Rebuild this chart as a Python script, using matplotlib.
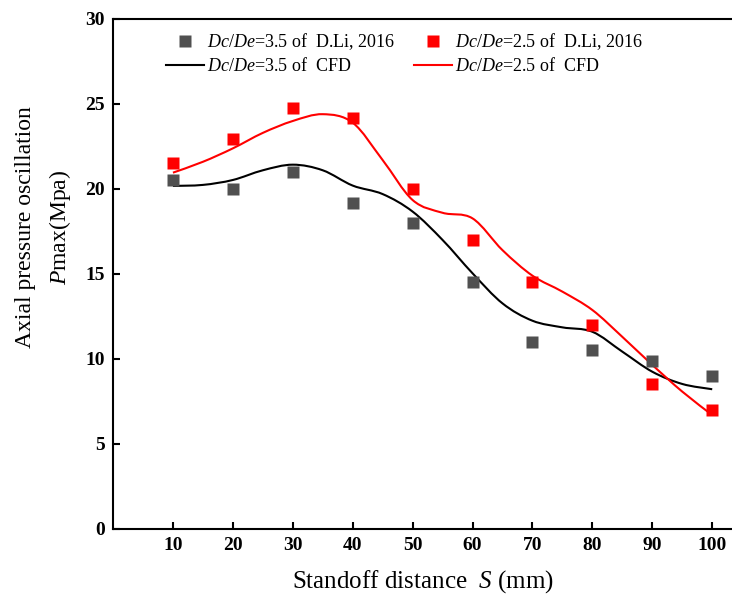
import matplotlib
matplotlib.use('Agg')
import matplotlib.pyplot as plt
from matplotlib.path import Path
from matplotlib.patches import PathPatch
from matplotlib.lines import Line2D
import numpy as np

plt.rcParams['font.family'] = 'Liberation Serif'
plt.rcParams['mathtext.fontset'] = 'custom'
plt.rcParams['mathtext.rm'] = 'Liberation Serif'
plt.rcParams['mathtext.it'] = 'Liberation Serif:italic'

# Experimental points (D.Li, 2016)
standoff = [10, 20, 30, 40, 50, 60, 70, 80, 90, 100]
exp_35 = [20.5, 20.0, 21.0, 19.2, 18.0, 14.5, 11.0, 10.5, 9.9, 9.0]
exp_25 = [21.5, 22.95, 24.75, 24.15, 20.0, 17.0, 14.5, 12.0, 8.5, 7.0]

# CFD results
cfd_s = [10, 15, 20, 25, 30, 35, 40, 45, 50, 55, 60, 65, 70, 75, 80, 85, 90, 95, 100]
cfd_35 = [20.18, 20.24, 20.53, 21.1, 21.43, 21.1, 20.2, 19.7, 18.67, 17.0, 15.04,
          13.27, 12.25, 11.86, 11.6, 10.43, 9.25, 8.53, 8.22]
cfd_25 = [20.96, 21.6, 22.39, 23.3, 24.0, 24.4, 23.9, 21.7, 19.35, 18.6, 18.27,
          16.4, 14.9, 13.96, 12.88, 11.3, 9.65, 8.08, 6.7]

GREY = '#505050'
RED = '#ff0000'


def smooth_path(xs, ys):
    """Catmull-Rom curve through the points, as cubic Bezier segments."""
    pts = np.column_stack([xs, ys]).astype(float)
    padded = np.vstack([pts[0], pts, pts[-1]])
    verts = [pts[0]]
    codes = [Path.MOVETO]
    for i in range(1, len(padded) - 2):
        p0, p1, p2, p3 = padded[i - 1], padded[i], padded[i + 1], padded[i + 2]
        verts += [p1 + (p2 - p0) / 6, p2 - (p3 - p1) / 6, p2]
        codes += [Path.CURVE4] * 3
    return Path(verts, codes)


fig = plt.figure(figsize=(7.32, 5.99), dpi=100)
ax = fig.add_axes([0.1544, 0.1169, 0.8456, 0.8514])

ax.add_patch(PathPatch(smooth_path(cfd_s, cfd_35), fill=False, edgecolor='black', lw=1.5))
ax.add_patch(PathPatch(smooth_path(cfd_s, cfd_25), fill=False, edgecolor=RED, lw=1.5))
ax.plot(standoff, exp_35, 's', color=GREY, ms=9, mec='none')
ax.plot(standoff, exp_25, 's', color=RED, ms=9, mec='none')

ax.set_xlim(0, 103.3)
ax.set_ylim(0, 30)
ax.set_xticks(standoff)
ax.set_yticks([0, 5, 10, 15, 20, 25, 30])
ax.tick_params(direction='in', length=5, width=1.5, labelsize=14)
ax.tick_params(axis='x', pad=6)
ax.tick_params(axis='y', pad=6)
for lab in ax.get_xticklabels() + ax.get_yticklabels():
    lab.set_fontweight('bold')
for side in ['left', 'bottom', 'top']:
    ax.spines[side].set_linewidth(1.5)
ax.spines['right'].set_visible(False)

ax.set_xlabel(r'Standoff distance  $\it{S}$ (mm)', fontsize=18, labelpad=10)
fig.text(0.035, 0.62, 'Axial pressure oscillation', rotation=90,
         fontsize=17, ha='center', va='center')
fig.text(0.082, 0.62, r'$\it{P}$max(Mpa)', rotation=90,
         fontsize=17, ha='center', va='center')

handles = [
    Line2D([], [], ls='none', marker='s', color=GREY, ms=9, mec='none'),
    Line2D([], [], color='black', lw=1.5),
    Line2D([], [], ls='none', marker='s', color=RED, ms=9, mec='none'),
    Line2D([], [], color=RED, lw=1.5),
]
labels = [
    r'$\it{Dc/De}$=3.5 of  D.Li, 2016',
    r'$\it{Dc/De}$=3.5 of  CFD',
    r'$\it{Dc/De}$=2.5 of  D.Li, 2016',
    r'$\it{Dc/De}$=2.5 of  CFD',
]
ax.legend(handles, labels, ncol=2, frameon=False, fontsize=13,
          loc='upper left', bbox_to_anchor=(0.065, 1.0),
          handlelength=2.1, handletextpad=0.2, labelspacing=0.25,
          columnspacing=1.0, borderaxespad=0.3)

plt.savefig('out.png', dpi=100)
